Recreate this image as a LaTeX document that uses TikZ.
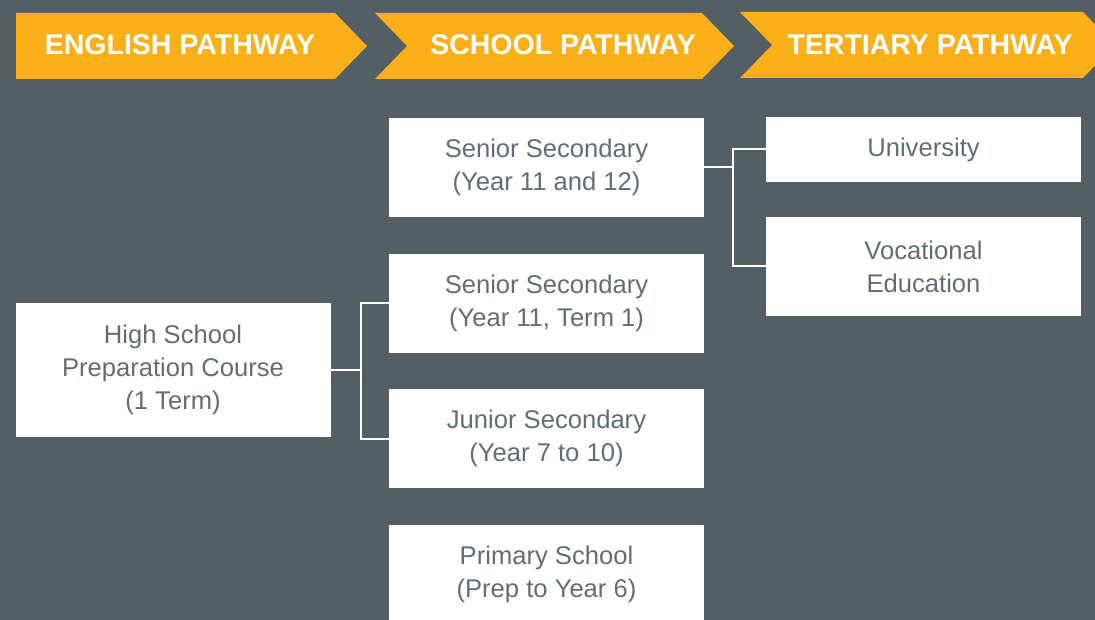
\documentclass[tikz,border=0pt]{standalone}
\usepackage{fontspec}
\setmainfont{Liberation Sans}
\usetikzlibrary{positioning}
\definecolor{slate}{HTML}{545E65}
\definecolor{amber}{HTML}{FBB01A}
\definecolor{boxtext}{HTML}{646D74}

\begin{document}
\begin{tikzpicture}[x=1pt,y=-1pt,
	band/.style={fill=amber},
	bandlabel/.style={text=white,font=\fontsize{28.5}{32}\selectfont\bfseries},
	stage/.style={fill=white,text=boxtext,minimum width=315pt,minimum height=99pt,
		align=center,inner sep=0pt,font=\fontsize{25.6}{33}\selectfont},
	link/.style={draw=white,line width=2pt}]
	\fill[slate] (0,0) rectangle (1095,620);
	\useasboundingbox (0,0) rectangle (1095,620);
	\clip (0,0) rectangle (1095,620);
	% pathway bands
	\fill[band] (16,13) -- (335,13) -- (367,46) -- (335,79) -- (16,79) -- cycle;
	\fill[band] (375,13) -- (702,13) -- (734,46) -- (702,79) -- (375,79) -- (407,46) -- cycle;
	\fill[band] (740,12) -- (1083,12) -- (1115,45) -- (1083,78) -- (740,78) -- (772,45) -- cycle;
	\node[bandlabel] (english) at (180,45) {ENGLISH PATHWAY};
	\node[bandlabel] (school) at (563,45) {SCHOOL PATHWAY};
	\node[bandlabel] (tertiary) at (930,45) {TERTIARY PATHWAY};
	% stages
	\node[stage] (hsp) at (173,370) [minimum height=134pt] {High School\\Preparation Course\\(1 Term)};
	\node[stage] (ss1) at (546.5,167.5) {Senior Secondary\\(Year 11 and 12)};
	\node[stage] (ss2) at (546.5,303.5) {Senior Secondary\\(Year 11, Term 1)};
	\node[stage] (jun) at (546.5,438.5) {Junior Secondary\\(Year 7 to 10)};
	\node[stage] (pri) at (546.5,574.5) {Primary School\\(Prep to Year 6)};
	\node[stage] (uni) at (923.5,149.5) [minimum height=65pt] {University};
	\node[stage] (voc) at (923.5,266.5) {Vocational\\Education};
	% links
	\draw[link] (hsp.east) -- ++(30,0) coordinate (jl);
	\draw[link] (ss2.west) -| (jl) |- (jun.west);
	\draw[link] (ss1.east) -- ++(29,0) coordinate (jr);
	\draw[link] (uni.west) -| (jr) |- (voc.west);
\end{tikzpicture}
\end{document}
